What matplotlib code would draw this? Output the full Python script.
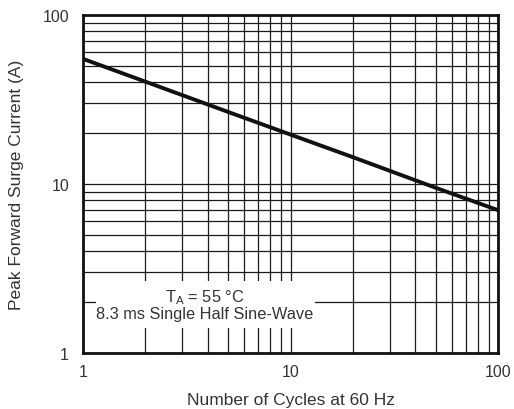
import matplotlib.pyplot as plt
from matplotlib.patches import Rectangle
from matplotlib.ticker import LogLocator, FixedLocator, FixedFormatter, NullFormatter

plt.rcParams['font.family'] = ['Liberation Sans', 'DejaVu Sans']

# data
cycles = [1, 2, 5, 10, 20, 50, 100]
current = [55, 40.3, 26.7, 19.6, 14.4, 9.5, 7.0]

tick_vals = [1, 10, 100]
tick_labels = ['1', '10', '100']

fig = plt.figure(figsize=(5.14, 4.10), dpi=100)
ax = fig.add_axes([0.1615, 0.1366, 0.8075, 0.8244])

ax.set_xscale('log')
ax.set_yscale('log')
ax.set_xlim(1, 100)
ax.set_ylim(1, 100)

ax.plot(cycles, current, color='#111111', lw=2.8, zorder=4, solid_capstyle='butt')

for axis in (ax.xaxis, ax.yaxis):
    axis.set_major_locator(FixedLocator(tick_vals))
    axis.set_major_formatter(FixedFormatter(tick_labels))
    axis.set_minor_locator(LogLocator(base=10, subs=range(2, 10)))
    axis.set_minor_formatter(NullFormatter())

ax.grid(True, which='both', color='#1a1a1a', lw=0.9)
ax.set_axisbelow(True)
ax.tick_params(which='both', length=0, labelsize=11.5, colors='#333333')
ax.tick_params(axis='x', pad=8)
ax.tick_params(axis='y', pad=10)

for s in ax.spines.values():
    s.set_linewidth(2.0)
    s.set_color('#111111')

ax.set_xlabel('Number of Cycles at 60 Hz', fontsize=12.5, color='#333333', labelpad=9)
ax.set_ylabel('Peak Forward Surge Current (A)', fontsize=12.5, color='#333333', labelpad=13)

# white panel behind the note, hides the grid there
ax.add_patch(Rectangle((0.031, 0.074), 0.528, 0.139, transform=ax.transAxes,
                       facecolor='white', edgecolor='none', zorder=3))
ax.text(0.293, 0.145, '$\\mathregular{T_A}$ = 55 °C\n8.3 ms Single Half Sine-Wave',
        transform=ax.transAxes, ha='center', va='center', fontsize=11.8,
        color='#333333', linespacing=1.05, zorder=5)

fig.savefig('out.png', dpi=100)
